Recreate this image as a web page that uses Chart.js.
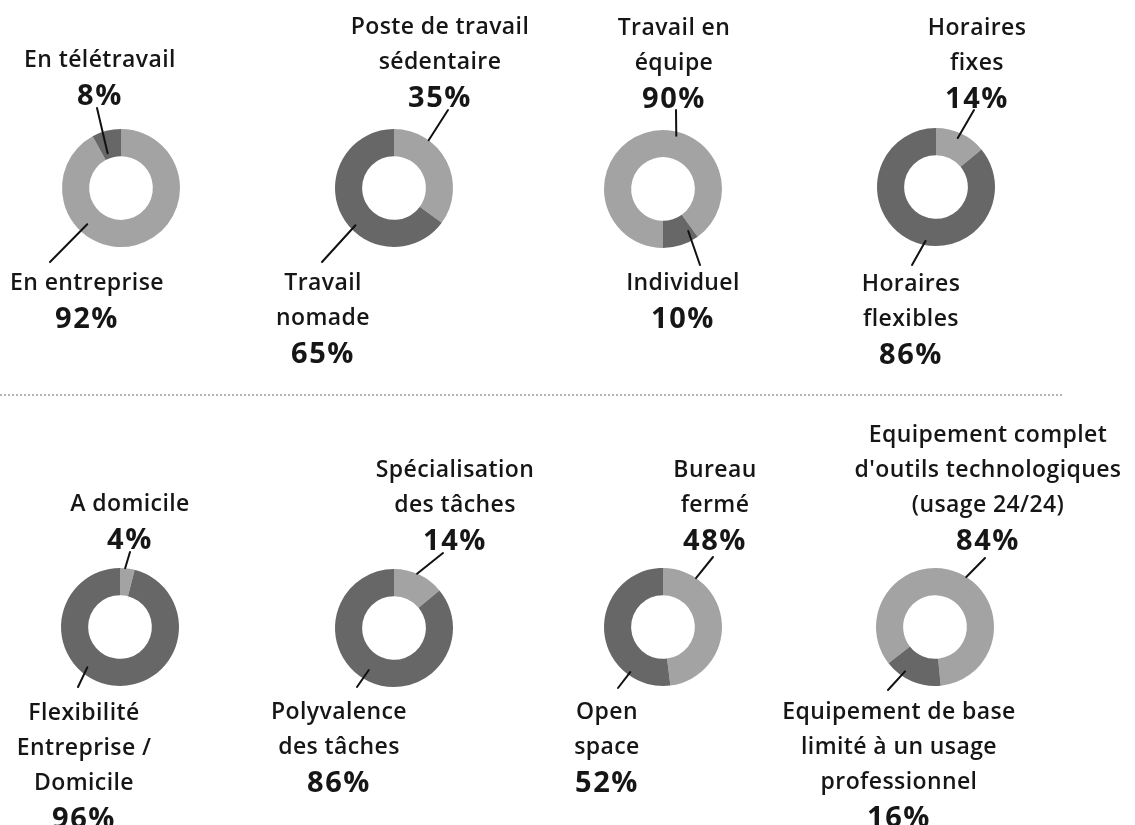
<!DOCTYPE html>
<html lang="fr">
<head>
<meta charset="utf-8">
<script src="https://cdn.jsdelivr.net/npm/chart.js@4.4.1/dist/chart.umd.min.js"></script>
<style>
  html, body { margin: 0; padding: 0; background: #fff; }
  #stage { position: relative; width: 1135px; height: 825px; overflow: hidden; background: #fff; }
  #stage canvas { position: absolute; left: 0; top: 0; }
  .sep { position: absolute; left: 0; top: 394px; width: 1062px; height: 0; border-top: 2px dotted #b4b4b4; }
  .lbl { position: absolute; width: 400px; text-align: center; color: #161616;
         font-family: "Open Sans", sans-serif; }
  .lbl div { height: 35px; line-height: 35px; white-space: nowrap; }
  .name { font-size: 23px; font-weight: 600; letter-spacing: 0.4px; }
  .pct { font-size: 29px; font-weight: 700; letter-spacing: 1.6px; }
</style>
</head>
<body>
<div id="stage"><div class="sep"></div></div>
<script>
// ---- Data ----
const topNames = [
  "En télétravail",
  "Poste de travail\nsédentaire",
  "Travail en\néquipe",
  "Horaires\nfixes",
  "A domicile",
  "Spécialisation\ndes tâches",
  "Bureau\nfermé",
  "Equipement complet\nd'outils technologiques\n(usage 24/24)"
];
const topValues = [8, 35, 90, 14, 4, 14, 48, 84];
const bottomNames = [
  "En entreprise",
  "Travail\nnomade",
  "Individuel",
  "Horaires\nflexibles",
  "Flexibilité\nEntreprise /\nDomicile",
  "Polyvalence\ndes tâches",
  "Open\nspace",
  "Equipement de base\nlimité à un usage\nprofessionnel"
];
const bottomValues = [92, 65, 10, 86, 96, 86, 52, 16];
// which segment is drawn first (light grey) : true = top label's segment
const lightIsTop = [false, true, true, true, true, true, true, true];
const startAngles = [0, 0, 180, 0, 0, 0, 0, 232];

// ---- Layout (positions / styles) ----
const W = 1135, H = 825;
const LIGHT = '#a3a3a3', DARK = '#676767';
const centers = [[121,188],[394,188],[663,189],[936,187],[120,627],[394,628],[663,627],[935,627]];
const R = 59;
const topBlocks = [[100,93],[440,95],[674,96],[977,96],[130,537],[455,538],[715,538],[988,538]];   // cx, y of % line
const bottomBlocks = [[87,281],[323,281],[683,281],[911,282],[84,711],[339,710],[607,710],[899,710]]; // cx, y of first line
// leader lines: [angle on ring (deg), radial position 0=inner..1=outer, label-side end x, y]
const leaders = [
  [[339,0.2,97,108],[223,0.65,50,262]],
  [[36,1.0,448,110],[226,0.8,322,262]],
  [[14,0.85,676,110],[149,0.63,700,265]],
  [[24,0.8,974,110],[191,0.85,912,265]],
  [[5,1.0,130,552],[219,0.74,78,687]],
  [[23,1.0,443,553],[211,0.63,357,687]],
  [[34,1.0,713,557],[216,0.88,618,688]],
  [[32,1.0,985,558],[214,0.8,888,690]]
];

const stage = document.getElementById('stage');

function addBlock(cx, yRef, lines, pct, isTop) {
  const d = document.createElement('div');
  d.className = 'lbl';
  const all = lines.map(t => ({t, c: 'name'})).concat([{t: pct + '%', c: 'pct'}]);
  all.forEach(o => {
    const e = document.createElement('div');
    e.className = o.c;
    e.textContent = o.t;
    d.appendChild(e);
  });
  d.style.left = (cx - 200) + 'px';
  const top = isTop ? (yRef - 17.5 - 35 * (all.length - 1)) : (yRef - 17.5);
  d.style.top = top + 'px';
  stage.appendChild(d);
}

const leaderPlugin = {
  id: 'leaders',
  afterDatasetsDraw(chart, args, opts) {
    const arc = chart.getDatasetMeta(0).data[0];
    if (!arc) return;
    const {x, y, innerRadius, outerRadius} = arc.getProps(['x','y','innerRadius','outerRadius'], true);
    const ctx = chart.ctx;
    ctx.save();
    ctx.strokeStyle = '#111';
    ctx.lineWidth = 2;
    ctx.lineCap = 'round';
    opts.lines.forEach(([ang, frac, lx, ly]) => {
      const r = innerRadius + frac * (outerRadius - innerRadius);
      const a = ang * Math.PI / 180;
      ctx.beginPath();
      ctx.moveTo(lx, ly);
      ctx.lineTo(x + r * Math.sin(a), y - r * Math.cos(a));
      ctx.stroke();
    });
    ctx.restore();
  }
};

for (let i = 0; i < 8; i++) {
  const cv = document.createElement('canvas');
  cv.width = W; cv.height = H;
  cv.style.width = W + 'px'; cv.style.height = H + 'px';
  stage.appendChild(cv);
  const [cx, cy] = centers[i];
  const vals = lightIsTop[i] ? [topValues[i], bottomValues[i]] : [bottomValues[i], topValues[i]];
  const labs = lightIsTop[i] ? [topNames[i], bottomNames[i]] : [bottomNames[i], topNames[i]];
  new Chart(cv, {
    type: 'doughnut',
    data: {
      labels: labs.map(s => s.replace(/\n/g, ' ')),
      datasets: [{ data: vals, backgroundColor: [LIGHT, DARK], borderWidth: 0, hoverOffset: 0 }]
    },
    options: {
      responsive: false,
      animation: false,
      devicePixelRatio: 1,
      cutout: '54%',
      rotation: startAngles[i],
      layout: { padding: { left: cx - R, top: cy - R, right: W - (cx + R), bottom: H - (cy + R) } },
      plugins: { legend: { display: false }, tooltip: { enabled: false }, leaders: { lines: leaders[i] } },
      events: []
    },
    plugins: [leaderPlugin]
  });
  addBlock(topBlocks[i][0], topBlocks[i][1], topNames[i].split('\n'), topValues[i], true);
  addBlock(bottomBlocks[i][0], bottomBlocks[i][1], bottomNames[i].split('\n'), bottomValues[i], false);
}
</script>
</body>
</html>
